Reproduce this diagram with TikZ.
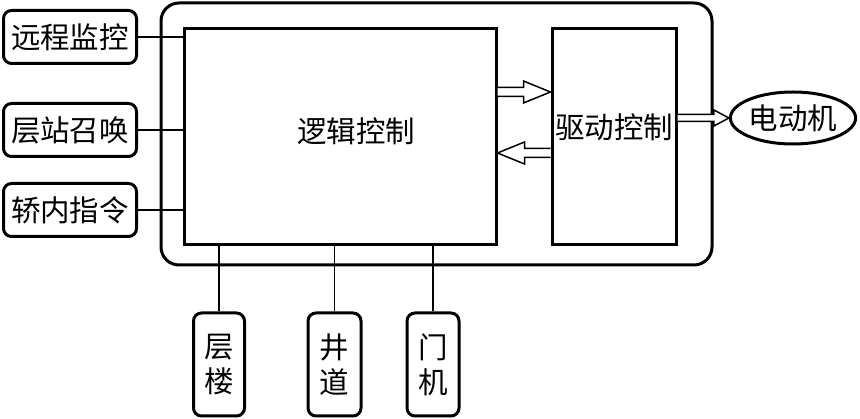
\documentclass[tikz,border=0pt]{standalone}
\usepackage{fontspec}
\newfontfamily\cjk{Noto Sans CJK SC}
\usetikzlibrary{calc,shapes.geometric}
\tikzset{
  every node/.style={font=\cjk\fontsize{29.5}{35}\selectfont, inner sep=0pt},
  rbox/.style={draw, line width=3pt, rounded corners=8pt},
  sqbox/.style={draw, line width=3pt},
  conn/.style={line width=1.3pt},
  blockarrow/.style={draw, line width=1.5pt, fill=white, line join=miter}
}
\begin{document}
\begin{tikzpicture}[x=1pt,y=-1pt]
\useasboundingbox (0,0) rectangle (860,419);
% outer frame
\draw[line width=3pt, rounded corners=18pt] (161,3) rectangle (712,265);
% main boxes
\node[sqbox, minimum width=312pt, minimum height=216pt] (logic) at (340,137) {};
\node at (356,131) {逻辑控制};
\node[sqbox, minimum width=124pt, minimum height=216pt] (drive) at (614,137) {};
\node at (614,127) {驱动控制};
\node[draw, ellipse, line width=3pt, minimum width=124pt, minimum height=52pt] (motor) at (793,118) {电动机};
% left inputs
\node[rbox, minimum width=133pt, minimum height=53pt] (remote) at (70,37) {远程监控};
\node[rbox, minimum width=133pt, minimum height=53pt] (station) at (70,130) {层站召唤};
\node[rbox, minimum width=133pt, minimum height=53pt] (car) at (70,210) {轿内指令};
\draw[conn] (remote.east) -- (remote.east -| logic.west);
\draw[conn] (station.east) -- (station.east -| logic.west);
\draw[conn] (car.east) -- (car.east -| logic.west);
% bottom inputs
\node[rbox, minimum width=51pt, minimum height=103pt, align=center] (floor) at (219,364.5) {层\\楼};
\node[rbox, minimum width=53pt, minimum height=103pt, align=center] (shaft) at (334.5,364.5) {井\\道};
\node[rbox, minimum width=52pt, minimum height=103pt, align=center] (door) at (433,364.5) {门\\机};
\draw[conn] (floor.north) -- (floor.north |- logic.south);
\draw[conn] (shaft.north) -- (shaft.north |- logic.south);
\draw[conn] (door.north) -- (door.north |- logic.south);
% block arrows
\coordinate (a1s) at (logic.east |- 0,92);
\coordinate (a1e) at (drive.west |- 0,92);
\draw[blockarrow] ($(a1s)+(0,-4.5)$) -- ($(a1e)+(-27,-4.5)$) -- ($(a1e)+(-27,-11)$) -- (a1e) -- ($(a1e)+(-27,11)$) -- ($(a1e)+(-27,4.5)$) -- ($(a1s)+(0,4.5)$);
\coordinate (a2s) at (drive.west |- 0,153);
\coordinate (a2e) at (logic.east |- 0,153);
\draw[blockarrow] ($(a2s)+(0,-4.5)$) -- ($(a2e)+(27,-4.5)$) -- ($(a2e)+(27,-11)$) -- (a2e) -- ($(a2e)+(27,11)$) -- ($(a2e)+(27,4.5)$) -- ($(a2s)+(0,4.5)$);
\coordinate (a3s) at (drive.east |- motor.west);
\draw[blockarrow] ($(a3s)+(0,-3.5)$) -- ($(motor.west)+(-15,-3.5)$) -- ($(motor.west)+(-15,-8)$) -- (motor.west) -- ($(motor.west)+(-15,8)$) -- ($(motor.west)+(-15,3.5)$) -- ($(a3s)+(0,3.5)$);
\end{tikzpicture}
\end{document}
